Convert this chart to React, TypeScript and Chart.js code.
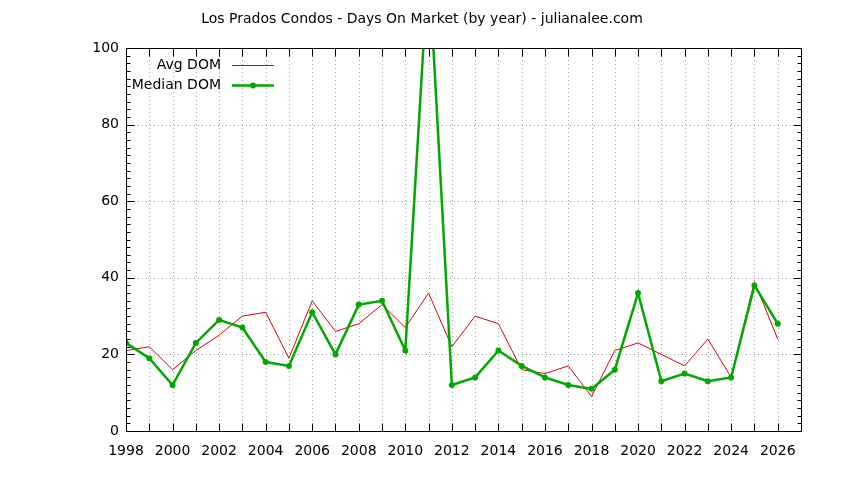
import React, { useEffect, useRef } from "react";
import { Chart, registerables } from "chart.js";

Chart.register(...registerables);

const TITLE = "Los Prados Condos - Days On Market (by year) - julianalee.com";
const years = [1998, 1999, 2000, 2001, 2002, 2003, 2004, 2005, 2006, 2007, 2008, 2009, 2010, 2011, 2012, 2013, 2014, 2015, 2016, 2017, 2018, 2019, 2020, 2021, 2022, 2023, 2024, 2025, 2026];
const avgDom = [21, 22, 16, 21, 25, 30, 31, 19, 34, 26, 28, 33, 27, 36, 22, 30, 28, 16, 15, 17, 9, 21, 23, 20, 17, 24, 14, 39, 24];
const medianDom = [23, 19, 12, 23, 29, 27, 18, 17, 31, 20, 33, 34, 21, 123, 12, 14, 21, 17, 14, 12, 11, 16, 36, 13, 15, 13, 14, 38, 28];
const yTicks = [0, 20, 40, 60, 80, 100];

const FONT = "DejaVu Sans";
const RED = "#e00000";
const GREEN = "#00a800";

const framePlugin = {
  id: "frame",
  beforeDatasetsDraw(chart: any) {
    const { ctx, chartArea: a, scales } = chart;
    const xs = scales.x, ys = scales.y;
    ctx.save();
    ctx.strokeStyle = "#a0a0a0";
    ctx.lineWidth = 1;
    ctx.setLineDash([1, 3]);
    for (let yr = 1999; yr <= 2026; yr++) {
      const px = Math.round(xs.getPixelForValue(yr)) + 0.5;
      ctx.beginPath();
      ctx.moveTo(px, a.top);
      ctx.lineTo(px, a.bottom);
      ctx.stroke();
    }
    for (const v of yTicks) {
      if (v === 0 || v === 100) continue;
      const py = Math.round(ys.getPixelForValue(v)) + 0.5;
      ctx.beginPath();
      ctx.moveTo(a.left, py);
      ctx.lineTo(a.right, py);
      ctx.stroke();
    }
    ctx.restore();
  },
  afterDatasetsDraw(chart: any) {
    const { ctx, chartArea: a, scales } = chart;
    const xs = scales.x, ys = scales.y;
    ctx.save();
    ctx.strokeStyle = "#000";
    ctx.lineWidth = 1;
    ctx.setLineDash([]);
    const L = Math.round(a.left) + 0.5, R = Math.round(a.right) + 0.5;
    const T = Math.round(a.top) + 0.5, B = Math.round(a.bottom) + 0.5;
    ctx.beginPath();
    ctx.rect(L, T, R - L, B - T);
    ctx.stroke();
    ctx.beginPath();
    for (let yr = 1999; yr <= 2026; yr++) {
      const px = Math.round(xs.getPixelForValue(yr)) + 0.5;
      ctx.moveTo(px, B); ctx.lineTo(px, B - 8);
      ctx.moveTo(px, T); ctx.lineTo(px, T + 8);
    }
    for (let v = 0; v <= 100; v += 2) {
      const py = Math.round(ys.getPixelForValue(v)) + 0.5;
      const len = v % 20 === 0 ? 8 : 4;
      ctx.moveTo(L, py); ctx.lineTo(L + len, py);
      ctx.moveTo(R, py); ctx.lineTo(R - len, py);
    }
    ctx.stroke();

    // title
    ctx.fillStyle = "#000";
    ctx.font = `14px "${FONT}"`;
    ctx.textAlign = "center";
    ctx.textBaseline = "middle";
    ctx.fillText(TITLE, 422, 19);

    // legend
    ctx.textAlign = "right";
    ctx.fillText("Avg DOM", 221, 65);
    ctx.fillText("Median DOM", 221, 85);
    ctx.strokeStyle = RED;
    ctx.lineWidth = 1;
    ctx.beginPath();
    ctx.moveTo(232, 65.5); ctx.lineTo(274, 65.5);
    ctx.stroke();
    ctx.strokeStyle = GREEN;
    ctx.lineWidth = 2.5;
    ctx.beginPath();
    ctx.moveTo(232, 85.5); ctx.lineTo(274, 85.5);
    ctx.stroke();
    ctx.fillStyle = GREEN;
    ctx.beginPath();
    ctx.arc(253, 85.5, 3, 0, Math.PI * 2);
    ctx.fill();
    ctx.restore();
  },
};

export default function App() {
  const ref = useRef<HTMLCanvasElement | null>(null);
  useEffect(() => {
    if (!ref.current) return;
    const chart = new Chart(ref.current, {
      type: "line",
      data: {
        datasets: [
          {
            label: "Avg DOM",
            data: years.map((x, i) => ({ x, y: avgDom[i] })),
            borderColor: RED,
            borderWidth: 1,
            pointRadius: 0,
            tension: 0,
            order: 1,
          },
          {
            label: "Median DOM",
            data: years.map((x, i) => ({ x, y: medianDom[i] })),
            borderColor: GREEN,
            backgroundColor: GREEN,
            borderWidth: 2.5,
            pointRadius: 3,
            pointBorderWidth: 0,
            pointBackgroundColor: GREEN,
            tension: 0,
            order: 0,
          },
        ],
      },
      options: {
        responsive: false,
        animation: false,
        layout: { padding: { left: 0, right: 43, top: 48, bottom: 0 } },
        plugins: { legend: { display: false }, title: { display: false }, tooltip: { enabled: false } },
        scales: {
          x: {
            type: "linear",
            min: 1998,
            max: 2027,
            grid: { display: false, drawTicks: false },
            border: { display: false },
            afterFit: (s: any) => { s.height = 49; },
            afterBuildTicks: (s: any) => {
              const t = [];
              for (let v = 1998; v <= 2026; v += 2) t.push({ value: v });
              s.ticks = t;
            },
            ticks: {
              autoSkip: false,
              maxRotation: 0,
              padding: 12,
              color: "#000",
              font: { family: FONT, size: 14 },
              callback: (v: any) => String(v),
            },
          },
          y: {
            min: 0,
            max: 100,
            grid: { display: false, drawTicks: false },
            border: { display: false },
            afterFit: (s: any) => { s.width = 126; },
            ticks: {
              stepSize: 20,
              padding: 7,
              color: "#000",
              font: { family: FONT, size: 14 },
            },
          },
        },
      },
      plugins: [framePlugin],
    } as any);
    return () => chart.destroy();
  }, []);
  return (
    <div style={{ position: "fixed", left: 0, top: 0, width: 844, height: 480, background: "#fff" }}>
      <canvas ref={ref} width={844} height={480} style={{ display: "block" }} />
    </div>
  );
}
